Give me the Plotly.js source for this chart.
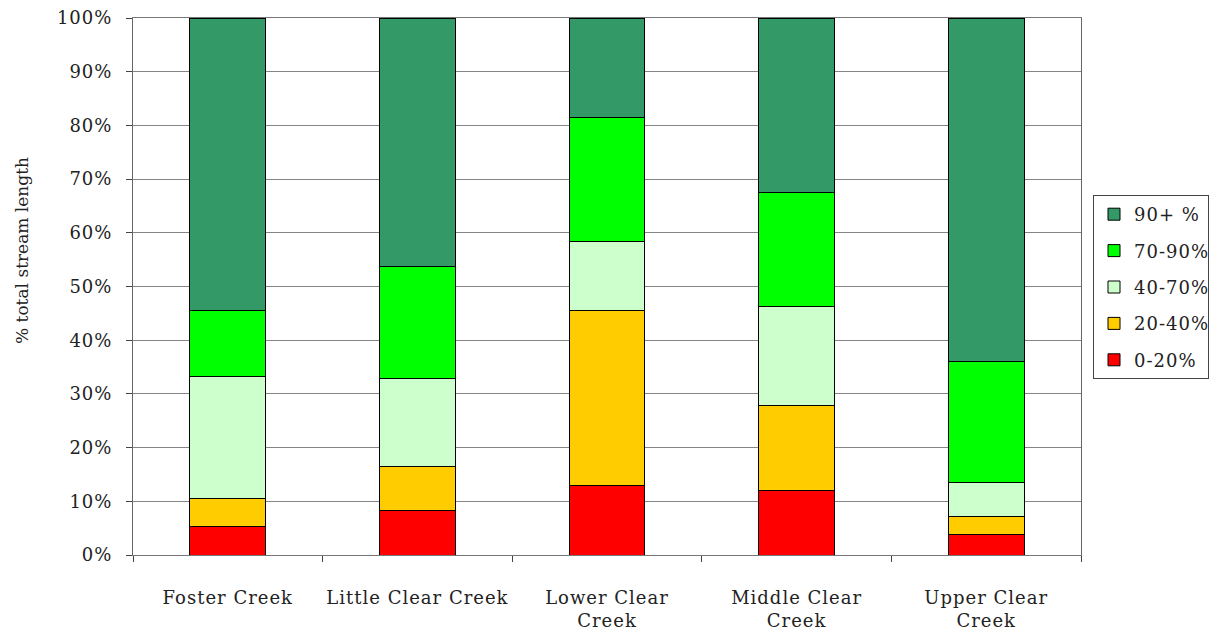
<!DOCTYPE html>
<html>
<head>
<meta charset="utf-8">
<script src="https://cdn.plot.ly/plotly-3.0.1.min.js"></script>
<style>
html,body{margin:0;padding:0;background:#fff;}
#chart{width:1217px;height:638px;}
#chart .xtick text, #chart .ytick text, #chart .legendtext{letter-spacing:1px;}
</style>
</head>
<body>
<div id="chart"></div>
<script>
const categories = ["Foster Creek", "Little Clear Creek", "Lower Clear<br>Creek", "Middle Clear<br>Creek", "Upper Clear<br>Creek"];
const seriesNames = ["0-20%", "20-40%", "40-70%", "70-90%", "90+ %"];
const v0_20   = [5.3, 8.25, 13.0, 12.1, 3.85];
const v20_40  = [5.3, 8.15, 32.6, 15.8, 3.25];
const v40_70  = [22.7, 16.5, 12.7, 18.3, 6.4];
const v70_90  = [12.2, 20.9, 23.2, 21.3, 22.5];
const v90plus = [54.5, 46.2, 18.5, 32.5, 64.0];
const colors = ["#FF0000", "#FFCC00", "#CCFFCC", "#00FF00", "#339966"];
const yTickVals = [0,10,20,30,40,50,60,70,80,90,100];
const yTickText = ["0%","10%","20%","30%","40%","50%","60%","70%","80%","90%","100%"];
const yTitle = "% total stream length";

const seriesValues = [v0_20, v20_40, v40_70, v70_90, v90plus];
const font = "'DejaVu Serif', 'Liberation Serif', serif";

const traces = seriesValues.map((vals, i) => ({
  type: "bar",
  name: seriesNames[i],
  legendgroup: "g" + i,
  legendrank: 100 - i,
  x: categories,
  y: vals,
  marker: {color: colors[i], line: {color: "#000", width: 1}},
  hoverinfo: "skip"
}));

const W = 1217, H = 638;
const plotL = 133, plotR = 1081, plotT = 18, plotB = 555;
const plotW = plotR - plotL, plotH = plotB - plotT;

const layout = {
  width: W, height: H,
  margin: {l: plotL, r: W - plotR, t: plotT, b: H - plotB},
  barmode: "stack",
  bargap: 0.6,
  paper_bgcolor: "#fff",
  plot_bgcolor: "#fff",
  font: {family: font, size: 18, color: "#222"},
  showlegend: true,
  legend: {
    xref: "container", yref: "container",
    x: 1093 / W, y: 1 - 195 / H, xanchor: "left", yanchor: "top",
    traceorder: "grouped",
    bordercolor: "#444", borderwidth: 1,
    font: {family: font, size: 18, color: "#222"},
    itemwidth: 30, tracegroupgap: 10
  },
  xaxis: {
    type: "category",
    tickson: "boundaries",
    ticks: "outside", ticklen: 6, tickcolor: "#444",
    ticklabelstandoff: 26,
    showline: true, linecolor: "#777", linewidth: 1, mirror: true,
    showgrid: false,
    automargin: false,
    tickfont: {family: font, size: 18, color: "#222"}
  },
  yaxis: {
    range: [0, 100],
    tickvals: yTickVals,
    ticktext: yTickText,
    ticks: "outside", ticklen: 6, tickcolor: "#444",
    ticklabelstandoff: 10,
    showline: true, linecolor: "#666", linewidth: 1, mirror: true,
    showgrid: true, gridcolor: "#858585", gridwidth: 1,
    zeroline: false,
    automargin: false,
    tickfont: {family: font, size: 18, color: "#222"}
  },
  annotations: [{
    text: yTitle, textangle: -90, showarrow: false,
    xref: "paper", yref: "paper",
    x: (22 - plotL) / plotW, y: (plotB - 251) / plotH,
    xanchor: "center", yanchor: "middle",
    font: {family: font, size: 17, color: "#222"}
  }]
};

Plotly.newPlot("chart", traces, layout, {displayModeBar: false, staticPlot: true});
</script>
</body>
</html>
